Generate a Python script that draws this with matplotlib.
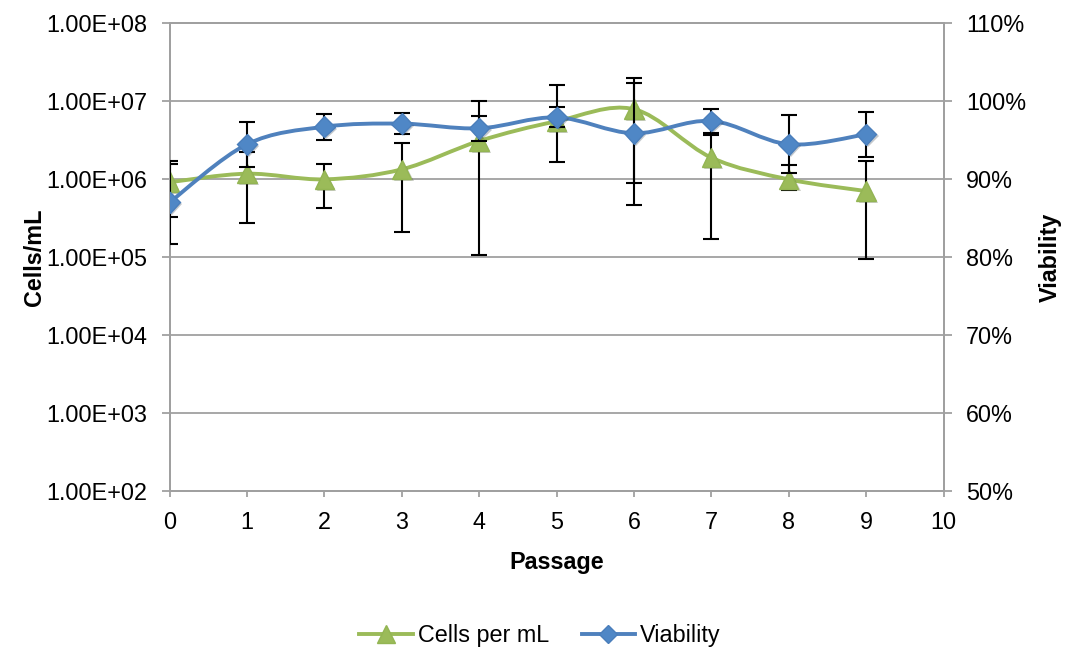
import matplotlib
matplotlib.use('Agg')
import matplotlib.pyplot as plt
import matplotlib.patheffects as pe
from matplotlib.path import Path
from matplotlib.patches import PathPatch
from matplotlib.lines import Line2D
from matplotlib.ticker import FixedLocator, FuncFormatter, NullLocator
import numpy as np

plt.rcParams['font.family'] = ['Liberation Sans', 'DejaVu Sans']

# data
passage = [0, 1, 2, 3, 4, 5, 6, 7, 8, 9]
cells = [9.1e5, 1.17e6, 9.9e5, 1.33e6, 3.07e6, 5.5e6, 7.85e6, 1.88e6, 9.9e5, 7.0e5]
cells_lo = [3.3e5, 2.7e5, 4.3e5, 2.1e5, 1.05e5, 1.65e6, 4.6e5, 1.68e5, 7.2e5, 9.3e4]
cells_hi = [1.54e6, 2.22e6, 1.54e6, 2.93e6, 1.0e7, 1.6e7, 2.0e7, 3.63e6, 1.50e6, 1.70e6]
viability = [0.870, 0.9445, 0.967, 0.971, 0.965, 0.979, 0.9586, 0.9744, 0.9445, 0.9573]
viab_err = [0.053, 0.029, 0.0167, 0.0135, 0.016, 0.0129, 0.064, 0.015, 0.037, 0.0287]

GREEN = '#9BBB59'
BLUE = '#4F81BD'
GRID = '#A0A0A0'
FS = 16.8


def smooth_path(x, y):
    # Catmull-Rom style bezier through the points (like Excel's smoothed line)
    x = np.asarray(x, float)
    y = np.asarray(y, float)
    n = len(x)
    verts = [(x[0], y[0])]
    codes = [Path.MOVETO]
    for i in range(n - 1):
        a = i - 1 if i > 0 else i
        d = i + 2 if i + 2 < n else i + 1
        c1 = (x[i] + (x[i + 1] - x[a]) / 6, y[i] + (y[i + 1] - y[a]) / 6)
        c2 = (x[i + 1] - (x[d] - x[i]) / 6, y[i + 1] - (y[d] - y[i]) / 6)
        verts += [c1, c2, (x[i + 1], y[i + 1])]
        codes += [Path.CURVE4] * 3
    return np.array(verts), codes


fig = plt.figure(figsize=(10.67, 6.5), dpi=100)
ax = fig.add_axes([0.1589, 0.2446, 0.7254, 0.7200])
ax2 = ax.twinx()

# primary axis: cells per mL (log)
ax.set_yscale('log')
ax.set_xlim(0, 10)
ax.set_ylim(1e2, 1e8)
ax.yaxis.set_major_locator(FixedLocator([10.0 ** k for k in range(2, 9)]))
ax.yaxis.set_minor_locator(NullLocator())
ax.yaxis.set_major_formatter(FuncFormatter(lambda v, p: '1.00E+%02d' % round(np.log10(v))))
ax.set_xticks(range(0, 11))
ax.grid(axis='y', color=GRID, linewidth=1.3)
ax.set_axisbelow(True)

ax2.set_ylim(0.5, 1.1)
ax2.set_yticks(np.arange(0.5, 1.101, 0.1))
ax2.yaxis.set_major_formatter(FuncFormatter(lambda v, p: '%d%%' % round(v * 100)))

for a in (ax, ax2):
    for s in a.spines.values():
        s.set_color(GRID)
        s.set_linewidth(1.3)
    a.tick_params(colors='black', labelsize=FS, width=1.3)
    a.tick_params(axis='both', color=GRID)
ax.tick_params(axis='y', length=6, pad=10)
ax.tick_params(axis='x', length=4.5, pad=10)
ax2.tick_params(axis='y', length=6, pad=10)

# cells series (smoothed in log space)
v, c = smooth_path(passage, np.log10(cells))
v[:, 1] = 10 ** v[:, 1]
ax.add_patch(PathPatch(Path(v, c), fill=False, edgecolor=GREEN, lw=2.8,
                       capstyle='round', joinstyle='round', zorder=2))
cells_a = np.array(cells)
ax.errorbar(passage, cells, yerr=[cells_a - np.array(cells_lo), np.array(cells_hi) - cells_a],
            fmt='none', ecolor='black', elinewidth=1.5, capsize=6, capthick=1.5, zorder=3)
shadow = [pe.SimplePatchShadow(offset=(1.5, -1.5), alpha=0.25), pe.Normal()]
ax.plot(passage, cells, linestyle='none', marker='^', markersize=14,
        markerfacecolor=GREEN, markeredgecolor='#93B553', markeredgewidth=1,
        zorder=4, path_effects=shadow)

# viability series
v, c = smooth_path(passage, viability)
ax2.add_patch(PathPatch(Path(v, c), fill=False, edgecolor=BLUE, lw=2.8,
                        capstyle='round', joinstyle='round', zorder=2))
ax2.errorbar(passage, viability, yerr=viab_err, fmt='none', ecolor='black',
             elinewidth=1.5, capsize=6, capthick=1.5, zorder=3)
ax2.plot(passage, viability, linestyle='none', marker='D', markersize=10.5,
         markerfacecolor='#4F87C6', markeredgecolor='#4A7EBB', markeredgewidth=1,
         zorder=4, path_effects=shadow)

ax.set_ylabel('Cells/mL', fontsize=FS, fontweight='bold')
ax.yaxis.set_label_coords(-0.159, 0.5)
ax2.set_ylabel('Viability', fontsize=FS, fontweight='bold')
ax2.yaxis.set_label_coords(1.123, 0.5)
ax.set_xlabel('Passage', fontsize=FS, fontweight='bold')
ax.xaxis.set_label_coords(0.5, -0.128)

handles = [
    Line2D([], [], color=GREEN, lw=2.8, marker='^', markersize=13,
           markerfacecolor=GREEN, markeredgecolor='#93B553'),
    Line2D([], [], color=BLUE, lw=2.8, marker='D', markersize=9.5,
           markerfacecolor='#4F87C6', markeredgecolor='#4A7EBB'),
]
fig.legend(handles, ['Cells per mL', 'Viability'], loc='center', ncol=2,
           bbox_to_anchor=(0.506, 0.022), frameon=False, fontsize=FS,
           handlelength=2.3, handletextpad=0.2, columnspacing=1.4)

fig.savefig('out.png', dpi=100, facecolor='white')
